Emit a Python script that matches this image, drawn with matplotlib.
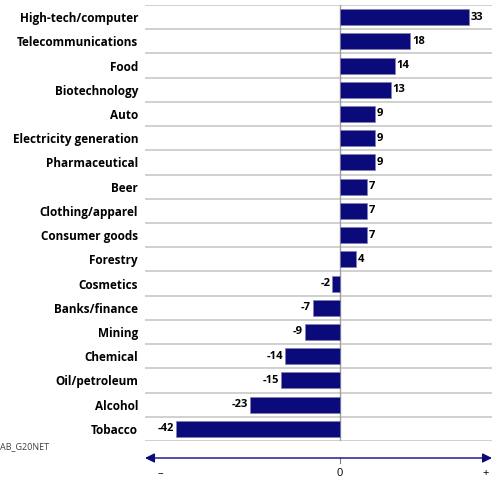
import matplotlib.pyplot as plt
import numpy as np

categories = ["High-tech/computer", "Telecommunications", "Food", "Biotechnology",
              "Auto", "Electricity generation", "Pharmaceutical", "Beer",
              "Clothing/apparel", "Consumer goods", "Forestry", "Cosmetics",
              "Banks/finance", "Mining", "Chemical", "Oil/petroleum", "Alcohol",
              "Tobacco"]
values = [33, 18, 14, 13, 9, 9, 9, 7, 7, 7, 4, -2, -7, -9, -14, -15, -23, -42]

navy = "#0a0a7a"
plt.rcParams['font.family'] = ['Open Sans', 'DejaVu Sans']

fig = plt.figure(figsize=(4.92, 4.82), dpi=100)
W, H = 492, 482
left, right, top, bottom = 145, 492, 5, 441
ax = fig.add_axes([left / W, 1 - bottom / H, (right - left) / W, (bottom - top) / H])

n = len(categories)
y = np.arange(n)
ax.barh(y, values, height=0.66, color=navy, edgecolor="#7f7fb0", linewidth=0.5, zorder=3)
ax.set_xlim(-50, 39)
ax.set_ylim(n - 0.5, -0.5)

for i in range(n + 1):
    ax.axhline(i - 0.5, color="#c8c8c8", lw=1.2, zorder=1)
ax.axvline(0, color="#a0a0a0", lw=1.0, zorder=2)

for i, v in enumerate(values):
    if v >= 0:
        ax.text(v + 0.5, i, str(v), va="center", ha="left", fontsize=8, fontweight="bold")
    else:
        ax.text(v - 0.5, i, str(v), va="center", ha="right", fontsize=8, fontweight="bold")

ax.set_yticks(y)
ax.set_yticklabels(categories, fontsize=8.5, fontweight="bold")
ax.tick_params(axis="y", length=0, pad=5)
ax.set_xticks([])
for s in ax.spines.values():
    s.set_visible(False)

# arrow axis below
ax2 = fig.add_axes([left / W, 1 - 482 / H, (right - left) / W, 40 / H])
ax2.set_xlim(-50, 39)
ax2.set_ylim(0, 1)
ax2.axis("off")
ax2.annotate("", xy=(-50, 0.6), xytext=(39, 0.6),
             arrowprops=dict(arrowstyle="<|-|>", color=navy, lw=1.0, mutation_scale=14,
                             shrinkA=0, shrinkB=0))
ax2.plot([0, 0], [0.6, 0.48], color="#808080", lw=0.8)
ax2.text(-46, 0.22, "–", ha="center", va="center", fontsize=8)
ax2.text(0, 0.22, "0", ha="center", va="center", fontsize=8)
ax2.text(37.5, 0.22, "+", ha="center", va="center", fontsize=8)

fig.text(0 / W, 1 - 447 / H, "AB_G20NET", fontsize=6.5, color="#404040", va="center", ha="left")

fig.savefig("out.png", dpi=100)
